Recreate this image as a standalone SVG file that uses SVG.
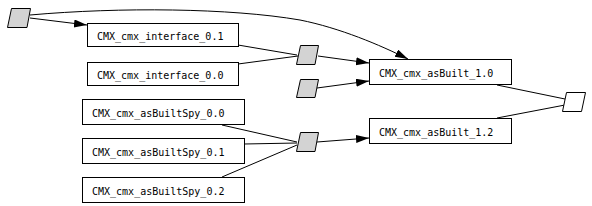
<svg xmlns="http://www.w3.org/2000/svg" width="592" height="206" viewBox="0 0 592 206">
<style>
.box{fill:#fff;stroke:#000;stroke-width:1}
.para{fill:#d3d3d3;stroke:#000;stroke-width:1}
.pw{fill:#fff;stroke:#000;stroke-width:1}
.lbl{font-family:"DejaVu Sans Mono","Liberation Mono",monospace;font-size:10px;fill:#000}
.e{fill:none;stroke:#000;stroke-width:1}
</style>
<defs>
<marker id="ah" markerUnits="userSpaceOnUse" markerWidth="14" markerHeight="10" refX="13" refY="4" orient="auto">
<path d="M0,0 L13,4 L0,8 Z" fill="#000"/>
</marker>
</defs>
<rect width="592" height="206" fill="#fff"/>
<g id="edges">
<path class="e" d="M30,15 C120,7 230,8 300,20 C340,28 380,45 408,59" marker-end="url(#ah)"/>
<path class="e" d="M30,18 L87,25" marker-end="url(#ah)"/>
<path class="e" d="M238,45 L297,55"/>
<path class="e" d="M238,64 L298,56"/>
<path class="e" d="M318,56 L369,63" marker-end="url(#ah)"/>
<path class="e" d="M317,88 L369,81" marker-end="url(#ah)"/>
<path class="e" d="M222,125 L297,142"/>
<path class="e" d="M244,144 L297,143"/>
<path class="e" d="M222,177 L297,145"/>
<path class="e" d="M317,142 L369,138" marker-end="url(#ah)"/>
<path class="e" d="M497,85 L565,99"/>
<path class="e" d="M497,118 L565,105"/>
</g>
<g id="src_top"><polygon class="para" points="11.5,8.5 30.5,8.5 27,27.5 7.5,27.5"/></g>
<g id="iface01"><rect class="box" x="87.5" y="23.5" width="151" height="23"/><text class="lbl" x="97" y="40">CMX_cmx_interface_0.1</text></g>
<g id="iface00"><rect class="box" x="87.5" y="62.5" width="151" height="23"/><text class="lbl" x="97" y="79">CMX_cmx_interface_0.0</text></g>
<g id="p1"><polygon class="para" points="300.5,45.5 318.5,45.5 315,64.5 296.5,64.5"/></g>
<g id="p2"><polygon class="para" points="300.5,79.5 318.5,79.5 315,97.5 296.5,97.5"/></g>
<g id="p3"><polygon class="para" points="300.5,132.5 318.5,132.5 315,151.5 296.5,151.5"/></g>
<g id="ab10"><rect class="box" x="369.5" y="59.5" width="142" height="25"/><text class="lbl" x="379" y="77">CMX_cmx_asBuilt_1.0</text></g>
<g id="ab12"><rect class="box" x="369.5" y="118.5" width="142" height="25"/><text class="lbl" x="379" y="136">CMX_cmx_asBuilt_1.2</text></g>
<g id="spy00"><rect class="box" x="82.5" y="99.5" width="162" height="25"/><text class="lbl" x="92" y="117">CMX_cmx_asBuiltSpy_0.0</text></g>
<g id="spy01"><rect class="box" x="82.5" y="138.5" width="162" height="25"/><text class="lbl" x="92" y="156">CMX_cmx_asBuiltSpy_0.1</text></g>
<g id="spy02"><rect class="box" x="82.5" y="177.5" width="162" height="25"/><text class="lbl" x="92" y="195">CMX_cmx_asBuiltSpy_0.2</text></g>
<g id="sink"><polygon class="pw" points="566.5,92.5 585.5,92.5 581.5,111.5 562.5,111.5"/></g>
</svg>
